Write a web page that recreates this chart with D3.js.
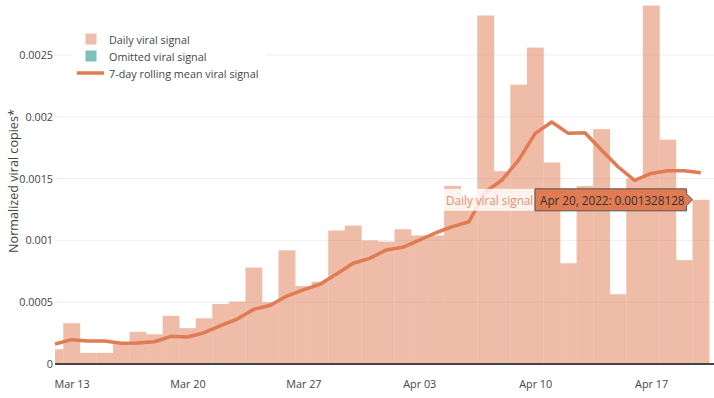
<html>

<head>
    <script src="https://d3js.org/d3.v7.min.js"></script>
    <style>
        body { margin: 0; background: #fff; }
        text { font-family: "Open Sans", sans-serif; }
    </style>
</head>

<body>
    <div id="vis"></div>
</body>

<script>

    // data
    var dates = ["2022-03-12", "2022-03-13", "2022-03-14", "2022-03-15", "2022-03-16", "2022-03-17", "2022-03-18", "2022-03-19",
        "2022-03-20", "2022-03-21", "2022-03-22", "2022-03-23", "2022-03-24", "2022-03-25", "2022-03-26", "2022-03-27",
        "2022-03-28", "2022-03-29", "2022-03-30", "2022-03-31", "2022-04-01", "2022-04-02", "2022-04-03", "2022-04-04",
        "2022-04-05", "2022-04-06", "2022-04-07", "2022-04-08", "2022-04-09", "2022-04-10", "2022-04-11", "2022-04-12",
        "2022-04-13", "2022-04-14", "2022-04-15", "2022-04-16", "2022-04-17", "2022-04-18", "2022-04-19", "2022-04-20"];

    var dailySignal = [0.00012, 0.00033, 0.00009, 0.00009, 0.00016, 0.00026, 0.00024, 0.00039,
        0.00029, 0.00037, 0.000485, 0.000505, 0.00078, 0.0005, 0.00092, 0.00063,
        0.000665, 0.00108, 0.00112, 0.001, 0.00099, 0.00109, 0.00104, 0.00104,
        0.00144, 0.00135, 0.00282, 0.00156, 0.00226, 0.00256, 0.00163, 0.000815,
        0.00144, 0.0019, 0.000565, 0.0015, 0.0029, 0.001815, 0.00084, 0.001328128];

    var rollingMean = [0.000162, 0.000197, 0.000186, 0.000186, 0.000168, 0.00017, 0.00018, 0.000224,
        0.000218, 0.000253, 0.00031, 0.000364, 0.000442, 0.000475, 0.00055, 0.0006,
        0.000645, 0.000728, 0.000815, 0.000855, 0.000922, 0.000944, 0.001003, 0.001062,
        0.001111, 0.001151, 0.001394, 0.001489, 0.00165, 0.001866, 0.001958, 0.001866,
        0.001871, 0.001731, 0.001596, 0.001486, 0.001542, 0.001564, 0.001564, 0.001548];

    var yTicks = [0, 0.0005, 0.001, 0.0015, 0.002, 0.0025];
    var yTickLabels = ["0", "0.0005", "0.001", "0.0015", "0.002", "0.0025"];
    var xTicks = ["2022-03-13", "2022-03-20", "2022-03-27", "2022-04-03", "2022-04-10", "2022-04-17"];

    var legendItems = ["Daily viral signal", "Omitted viral signal", "7-day rolling mean viral signal"];

    var orange = "#e07b54",
        teal = "#80c0bf";

    var parse = d3.timeParse("%Y-%m-%d");
    var data = dates.map(function (d, i) {
        return { date: parse(d), value: dailySignal[i], mean: rollingMean[i] };
    });

    var width = 714, height = 398;
    var plotLeft = 55, plotRight = 714, plotBottom = 364;

    var svg = d3.select("#vis")
        .append("svg")
        .attr("width", width)
        .attr("height", height);

    var x = d3.scaleTime()
        .domain([parse(dates[0]), parse(dates[dates.length - 1])])
        .range([plotLeft, 700.8]);

    var y = d3.scaleLinear()
        .domain([0, 0.0025])
        .range([plotBottom, 55]);

    var dayWidth = x(parse("2022-03-13")) - x(parse("2022-03-12"));

    svg.append("clipPath")
        .attr("id", "plotClip")
        .append("rect")
        .attr("x", plotLeft)
        .attr("y", 0)
        .attr("width", plotRight - plotLeft)
        .attr("height", plotBottom);

    // gridlines
    svg.append("g")
        .selectAll("line")
        .data(yTicks.slice(1))
        .enter()
        .append("line")
        .attr("x1", plotLeft)
        .attr("x2", plotRight)
        .attr("y1", function (d) { return y(d); })
        .attr("y2", function (d) { return y(d); })
        .attr("stroke", "#eee")
        .attr("stroke-width", 1);

    // Y axis labels
    var yAxis = d3.axisLeft(y)
        .tickValues(yTicks)
        .tickSize(0)
        .tickPadding(2)
        .tickFormat(function (d, i) { return yTickLabels[i]; });
    svg.append("g")
        .attr("transform", "translate(" + plotLeft + ",0)")
        .call(yAxis)
        .call(function (g) { g.select(".domain").remove(); })
        .selectAll("text")
        .style("font-family", "'Open Sans', sans-serif")
        .style("font-size", "10.8px")
        .attr("fill", "#444");

    // Y axis title
    svg.append("text")
        .attr("transform", "translate(13," + 181 + ")rotate(-90)")
        .attr("dominant-baseline", "central")
        .style("text-anchor", "middle")
        .style("font-size", "12.6px")
        .attr("fill", "#444")
        .text("Normalized viral copies*");

    // bars (opacity on the group so neighbouring bars don't leave seams)
    svg.append("g")
        .attr("clip-path", "url(#plotClip)")
        .attr("opacity", 0.5)
        .selectAll("rect")
        .data(data)
        .enter()
        .append("rect")
        .attr("x", function (d) { return x(d.date) - dayWidth / 2; })
        .attr("y", function (d) { return y(d.value); })
        .attr("width", dayWidth + 0.3)
        .attr("height", function (d) { return plotBottom - y(d.value); })
        .attr("fill", orange);

    // zero line
    svg.append("line")
        .attr("x1", plotLeft)
        .attr("x2", plotRight)
        .attr("y1", y(0))
        .attr("y2", y(0))
        .attr("stroke", "#444")
        .attr("stroke-width", 2);

    // rolling mean line
    var line = d3.line()
        .x(function (d) { return x(d.date); })
        .y(function (d) { return y(d.mean); });
    svg.append("path")
        .datum(data)
        .attr("d", line)
        .attr("fill", "none")
        .attr("stroke", orange)
        .attr("stroke-width", 3.5)
        .attr("stroke-linejoin", "round");

    // X axis
    var xAxis = d3.axisBottom(x)
        .tickValues(xTicks.map(parse))
        .tickSize(0)
        .tickPadding(16)
        .tickFormat(d3.timeFormat("%b %d"));
    svg.append("g")
        .attr("transform", "translate(0," + plotBottom + ")")
        .call(xAxis)
        .call(function (g) { g.select(".domain").remove(); })
        .selectAll("text")
        .style("font-family", "'Open Sans', sans-serif")
        .style("font-size", "10.8px")
        .attr("fill", "#444");

    // legend
    var legend = svg.append("g");
    legend.append("rect")
        .attr("x", 72)
        .attr("y", 28)
        .attr("width", 193)
        .attr("height", 56)
        .attr("fill", "#fff");
    legendItems.forEach(function (name, i) {
        var cy = 39 + i * 17;
        if (i < 2) {
            legend.append("rect")
                .attr("x", 85.5)
                .attr("y", cy - 5.5)
                .attr("width", 11)
                .attr("height", 11)
                .attr("fill", i == 0 ? orange : teal)
                .attr("fill-opacity", i == 0 ? 0.5 : 1);
        } else {
            legend.append("line")
                .attr("x1", 77)
                .attr("x2", 104)
                .attr("y1", cy)
                .attr("y2", cy)
                .attr("stroke", orange)
                .attr("stroke-width", 3.5);
        }
        legend.append("text")
            .attr("x", 109)
            .attr("y", cy)
            .attr("dominant-baseline", "central")
            .style("font-size", "10.8px")
            .attr("fill", "#444")
            .text(name);
    });

    // hover label on the last bar
    var last = data[data.length - 1];
    var tipX = x(last.date) - dayWidth / 2,
        tipY = y(last.value);
    var fmt = d3.timeFormat("%b %d, %Y");
    var tip = svg.append("g");

    tip.append("rect")
        .attr("x", 444)
        .attr("y", tipY - 11)
        .attr("width", 90)
        .attr("height", 22)
        .attr("fill", "#fff")
        .attr("fill-opacity", 0.8);
    tip.append("text")
        .attr("x", 446)
        .attr("y", tipY)
        .attr("dominant-baseline", "central")
        .style("font-size", "11.7px")
        .attr("fill", orange)
        .attr("fill-opacity", 0.85)
        .text("Daily viral signal");

    tip.append("path")
        .attr("d", "M" + tipX + "," + tipY +
            "l-6,-6 V" + (tipY - 11) + " H535 V" + (tipY + 11) + " H" + (tipX - 6) + " V" + (tipY + 6) + "Z")
        .attr("fill", orange)
        .attr("stroke", "#555")
        .attr("stroke-width", 1);
    tip.append("text")
        .attr("x", 540)
        .attr("y", tipY)
        .attr("dominant-baseline", "central")
        .style("font-size", "11.7px")
        .attr("fill", "#333")
        .text(fmt(last.date) + ": " + last.value);

</script>

</html>
